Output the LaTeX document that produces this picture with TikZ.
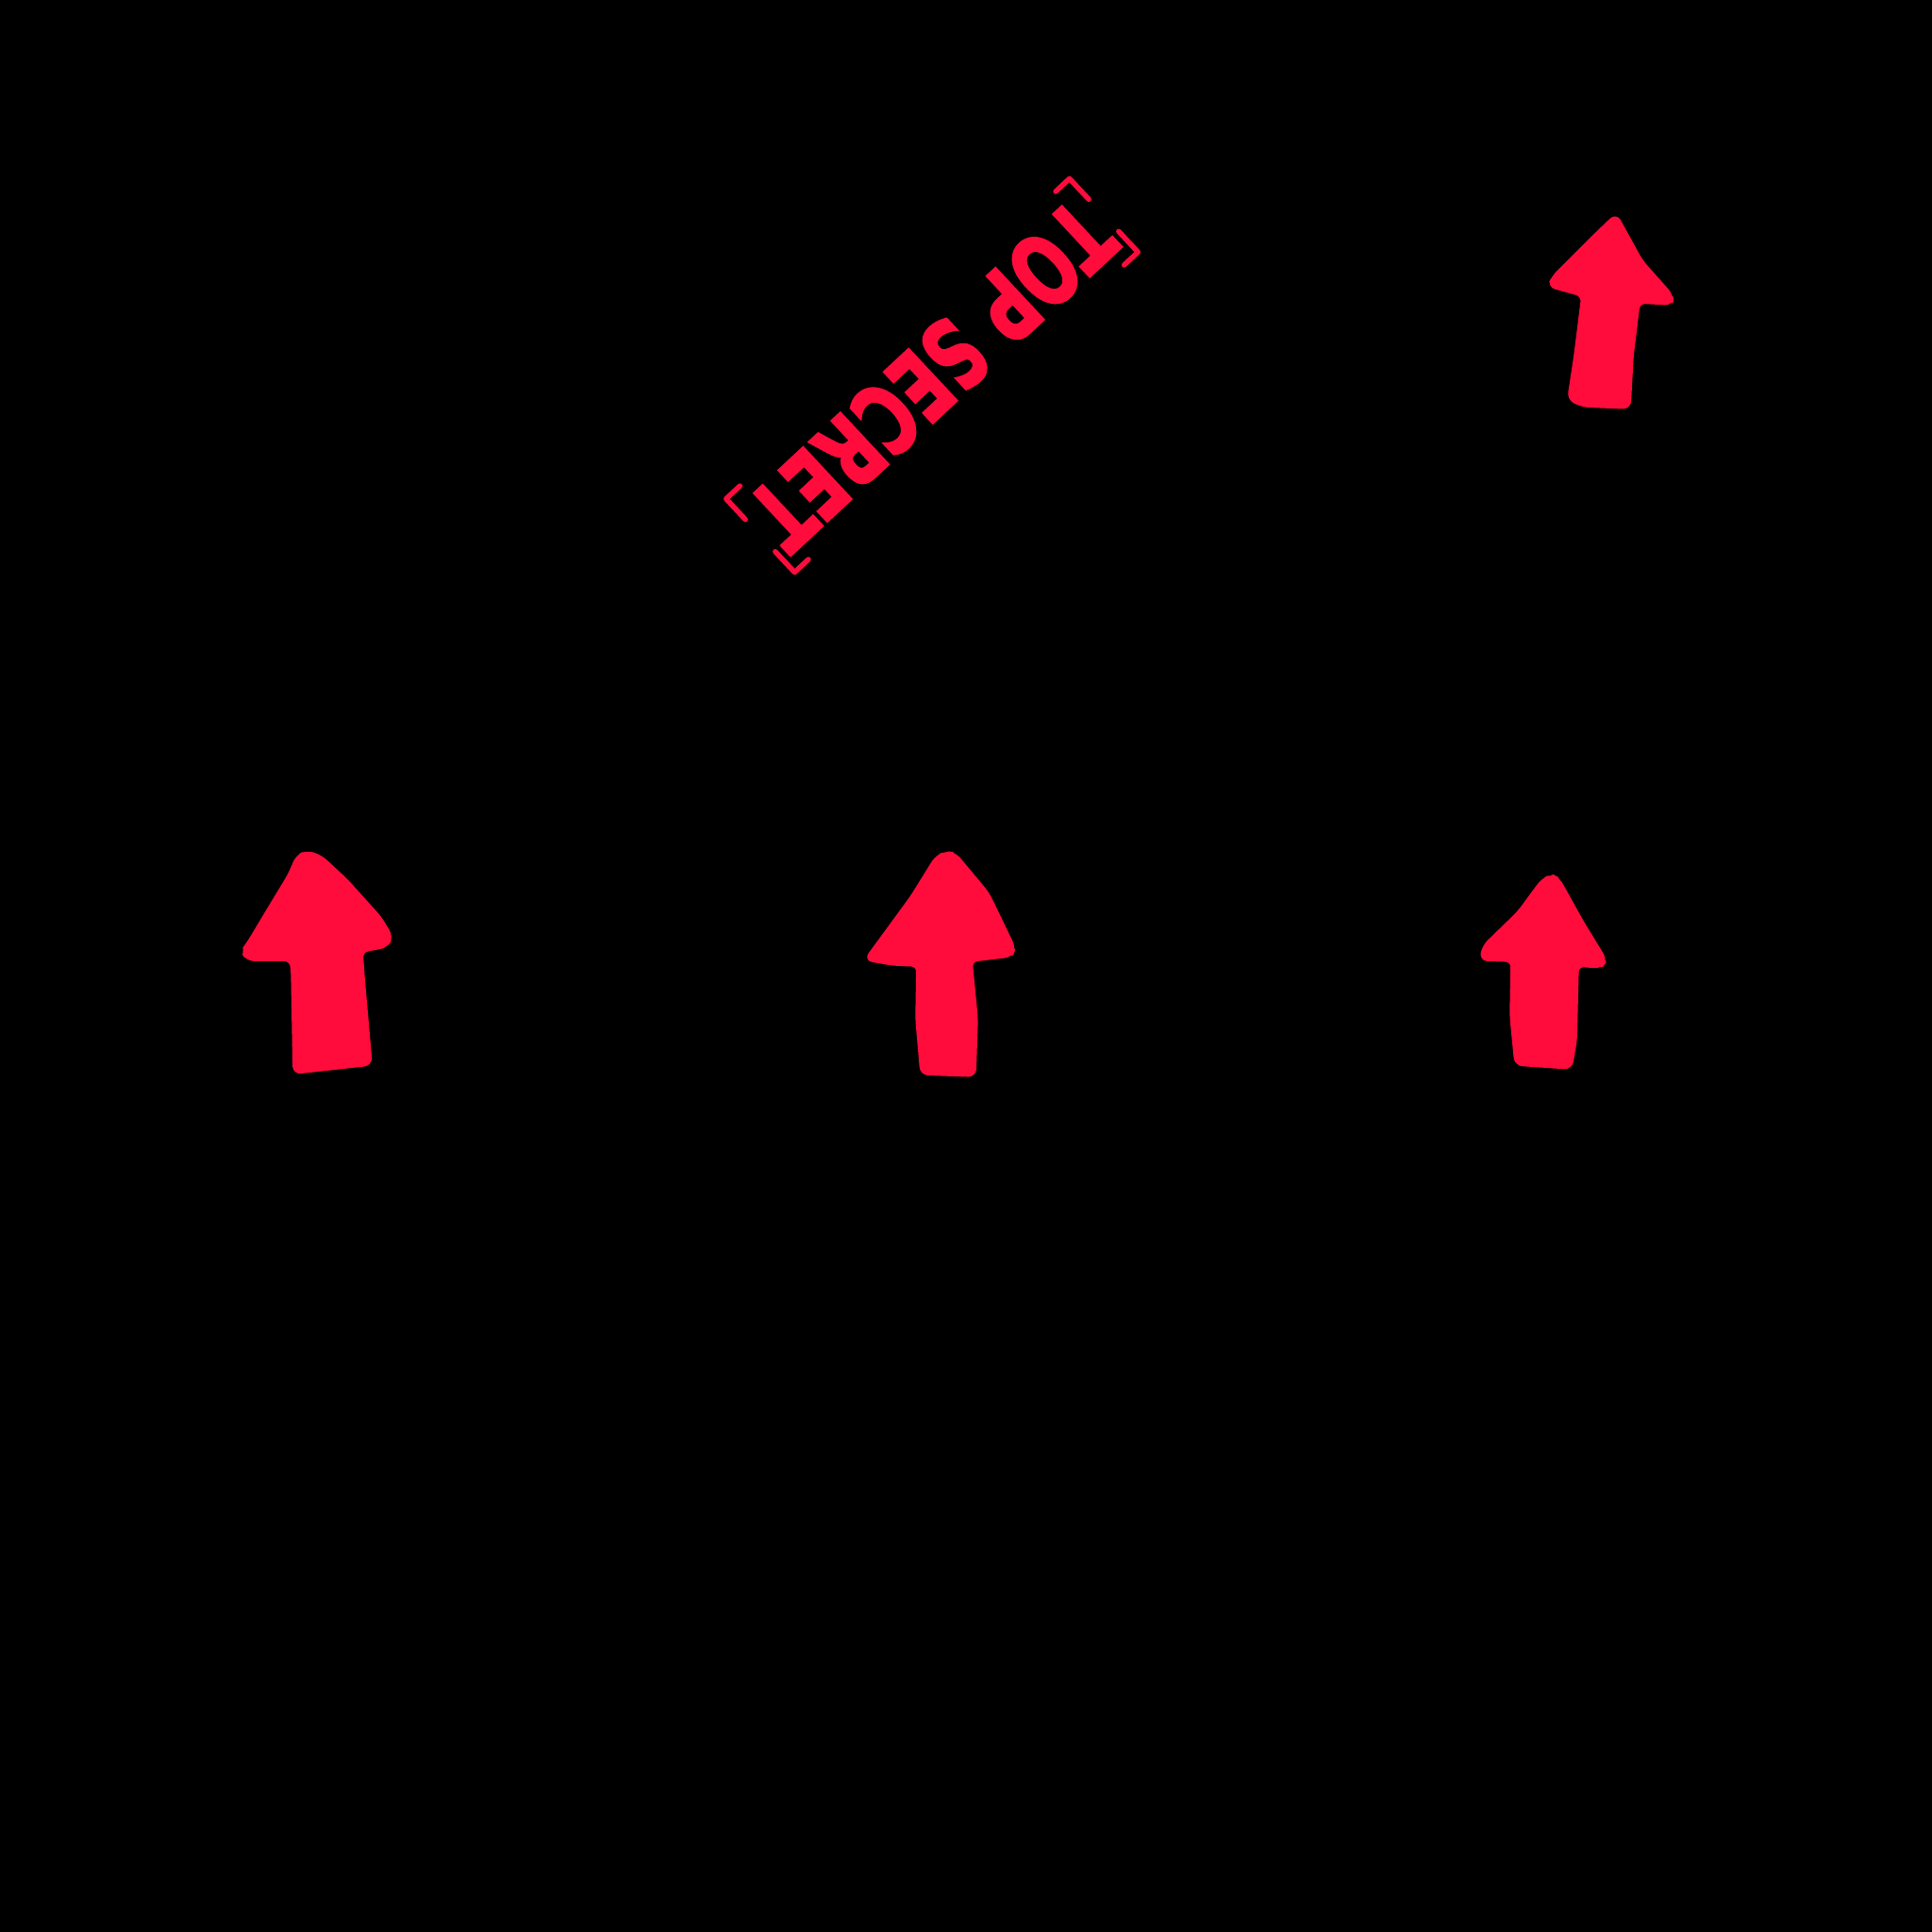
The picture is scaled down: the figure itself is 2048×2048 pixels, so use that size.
\documentclass[tikz,border=0pt]{standalone}
\usepackage{graphicx}
\usepackage{fontspec}
\setmainfont{DejaVu Sans}
\newfontfamily\stampfont{DejaVu Sans}[BoldFeatures={FakeBold=2.5}]
\usetikzlibrary{calc}
\definecolor{stampred}{RGB}{255,12,60}
\tikzset{
	arrowfill/.style={fill=stampred, draw=stampred, line width=1pt, line join=round, rounded corners=2pt},
	bracket/.style={draw=stampred, line width=0.55mm, line cap=round, line join=round}
}

\begin{document}
\begin{tikzpicture}[x=0.01cm, y=-0.01cm]
			%%%%% START %%%%%
			
			\fill[black] (0, 0) rectangle (2048, 2048);
			
			% stamp
			\node[rotate=223, minimum width=4.96cm, minimum height=1.05cm, inner sep=0, text=stampred] (stamp) at (988, 398) {\resizebox{4.81cm}{0.76cm}{\stampfont\bfseries TOP SECRET}};
			\foreach \c/\l/\s in {south west/south east/north west, north west/north east/south west, north east/north west/south east, south east/south west/north east}
				\draw[bracket] ($(stamp.\c)!0.2cm!(stamp.\l)$) -- (stamp.\c) -- ($(stamp.\c)!0.3cm!(stamp.\s)$);
			
			% top right arrow
			\draw[arrowfill] (1713, 228) -- (1687, 253) -- (1647, 293) -- (1642, 303) -- (1678, 313) -- (1670, 377) -- (1663, 423) -- (1678, 430) -- (1727, 432) -- (1730, 377) -- (1737, 320) -- (1772, 322) -- (1772, 313) -- (1740, 277) -- cycle;
			
			% left arrow
			\draw[arrowfill] (325, 903) -- (315, 908) -- (307, 927) -- (287, 960) -- (263, 1000) -- (257, 1008) -- (262, 1017) -- (308, 1017) -- (310, 1027) -- (312, 1137) -- (393, 1128) -- (385, 1037) -- (383, 1008) -- (410, 1003) -- (415, 993) -- (403, 973) -- (367, 933) -- (340, 908) -- cycle;
			
			% middle arrow
			\draw[arrowfill] (1003, 904) -- (993, 908) -- (967, 950) -- (940, 987) -- (918, 1017) -- (947, 1022) -- (973, 1023) -- (972, 1080) -- (977, 1138) -- (1033, 1140) -- (1035, 1080) -- (1029, 1018) -- (1072, 1013) -- (1075, 1005) -- (1047, 947) -- (1012, 905) -- cycle;
			
			% right arrow
			\draw[arrowfill] (1645, 928) -- (1635, 933) -- (1610, 967) -- (1573, 1003) -- (1570, 1017) -- (1603, 1018) -- (1602, 1077) -- (1607, 1128) -- (1665, 1132) -- (1670, 1103) -- (1672, 1023) -- (1697, 1025) -- (1702, 1018) -- (1677, 977) -- (1652, 932) -- cycle;
			
			%%%%% END %%%%%
\end{tikzpicture}
\end{document}
